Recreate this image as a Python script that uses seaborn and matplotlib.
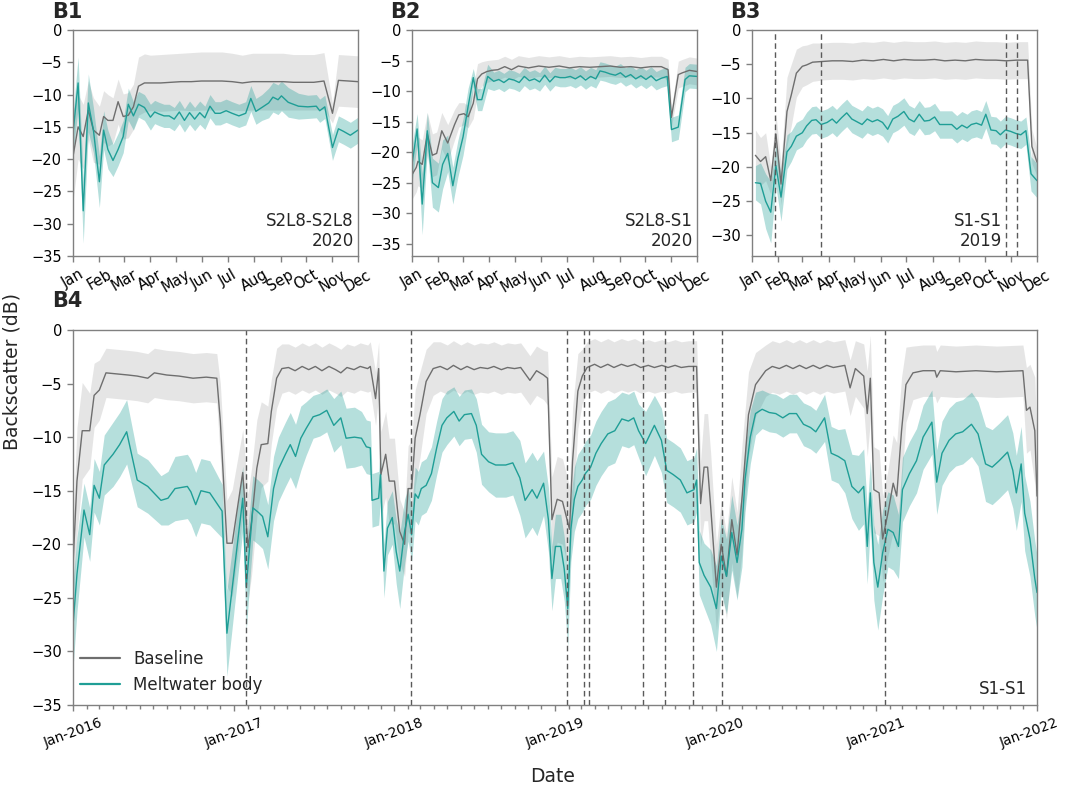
import numpy as np
import pandas as pd
import matplotlib
matplotlib.use("Agg")
import matplotlib.pyplot as plt
import matplotlib.dates as mdates
import matplotlib.transforms as mtransforms
import seaborn as sns

# ---------------- B1 (2020, S2L8-S2L8) ----------------
b1_base_dates = ["01-01","01-07","01-13","01-19","01-25","02-01","02-06","02-11","02-17","02-23","02-29",
                 "03-06","03-12","03-18","03-25","04-01","04-13","04-25","05-07","05-19","05-31","06-12",
                 "06-24","07-06","07-18","07-30","08-11","08-23","09-04","09-16","09-28","10-10","10-22",
                 "11-01","11-08","11-20","12-01"]
b1_base = [-19.6,-15.0,-16.5,-12.4,-15.5,-16.3,-13.4,-14.0,-14.0,-11.1,-13.4,
           -13.2,-11.9,-8.7,-8.2,-8.2,-8.2,-8.1,-8.0,-8.0,-7.9,-7.9,
           -7.9,-8.0,-8.2,-8.0,-8.0,-8.0,-8.0,-8.1,-8.1,-8.1,-7.9,
           -12.9,-7.8,-7.9,-8.0]
b1_base_sd = [7,5,5,4.5,5,4.5,4,4,3.5,3.5,3.5,
              3.5,3.5,4.5,4.5,4.3,4.4,4.4,4.4,4.5,4.5,4.5,
              4.5,4.4,4.3,4.4,4.4,4.4,4.4,4.3,4.3,4.3,4.4,
              1.5,4.0,4.0,4.0]
b1_melt_dates = ["01-01","01-07","01-13","01-19","01-25","02-01","02-06","02-11","02-17","02-23","02-29",
                 "03-06","03-12","03-18","03-25","04-01","04-06","04-11","04-17","04-23","04-29",
                 "05-05","05-11","05-17","05-23","05-29","06-04","06-10","06-16","06-22","06-29",
                 "07-06","07-14","07-22","07-28","08-03","08-10","08-18","08-23","08-29",
                 "09-02","09-10","09-22","10-03","10-13","10-17","10-23","11-01","11-08","11-14","11-22","12-01"]
b1_melt = [-16.0,-8.2,-28.0,-11.3,-15.5,-23.5,-15.5,-18.5,-20.2,-18.5,-16.5,
           -11.5,-13.3,-11.5,-12.0,-13.5,-12.7,-13.0,-13.3,-13.3,-13.8,
           -12.7,-14.0,-12.8,-13.8,-12.8,-13.6,-11.8,-12.9,-12.9,-12.5,
           -12.9,-13.3,-12.9,-10.6,-12.6,-12.0,-11.3,-10.4,-10.8,
           -10.2,-11.2,-11.8,-11.9,-11.8,-12.5,-11.9,-18.2,-15.3,-15.7,-16.3,-15.5]
b1_melt_sd = [3,4,5,4.5,3.5,4,3,3,2.5,2.5,2.5,
              2.5,2.2,2.0,2.0,2.0,1.8,1.8,1.8,1.8,1.8,
              1.8,1.8,1.8,1.8,1.8,1.8,1.8,1.8,1.8,1.8,
              1.8,1.8,1.8,2.0,2.0,2.0,2.3,2.3,2.3,
              2.3,2.3,2.0,1.8,1.8,1.8,1.8,2.0,2.0,2.0,2.0,2.0]

# ---------------- B2 (2020, S2L8-S1) ----------------
b2_base_dates = ["01-01","01-06","01-08","01-13","01-19","01-25","01-30","02-05","02-12","02-20","02-25",
                 "03-02","03-07","03-13","03-18","03-23","03-29","04-04","04-11","04-19","04-27",
                 "05-05","05-17","05-29","06-10","06-22","07-04","07-16","07-28","08-09","08-21",
                 "09-02","09-14","09-26","10-08","10-20","10-28","11-01","11-09","11-14","11-22","12-01"]
b2_base = [-23.7,-22.5,-21.5,-22.0,-17.0,-20.5,-20.2,-16.5,-18.5,-15.5,-13.9,
           -13.7,-14.2,-12.0,-8.0,-7.2,-6.8,-6.6,-6.5,-6.0,-6.5,
           -5.9,-6.2,-5.9,-6.1,-5.9,-6.2,-6.0,-6.1,-6.0,-5.9,
           -6.1,-6.0,-6.2,-6.0,-6.0,-6.5,-14.3,-7.3,-7.0,-6.6,-6.8]
b2_base_sd = [4,4,4,4,3.5,3.5,3.5,3,3,2.5,2,
              1.8,1.8,2.5,2.5,2,1.8,1.7,1.7,1.7,1.7,
              1.7,1.7,1.7,1.7,1.7,1.7,1.7,1.7,1.7,1.7,
              1.7,1.7,1.7,1.7,1.7,1.7,1.5,2.2,2.2,2.2,2.2]
b2_melt_dates = ["01-01","01-07","01-13","01-19","01-25","02-01","02-06","02-12","02-18","02-24",
                 "03-01","03-07","03-13","03-18","03-23","03-30","04-06","04-12","04-18","04-24","04-30",
                 "05-06","05-12","05-18","05-24","05-30","06-05","06-11","06-17","06-23","06-29",
                 "07-05","07-11","07-17","07-23","07-29","08-04","08-09","08-15","08-21","08-27",
                 "09-02","09-08","09-14","09-20","09-26","10-02","10-08","10-14","10-20","10-27",
                 "11-01","11-09","11-17","11-22","12-01"]
b2_melt = [-22.0,-16.2,-28.5,-16.5,-25.0,-25.8,-22.0,-20.2,-25.5,-21.0,
           -17.5,-12.5,-7.8,-11.4,-11.4,-7.6,-8.4,-8.1,-8.6,-8.0,-8.2,
           -8.6,-7.6,-8.3,-8.0,-8.5,-7.4,-8.5,-7.6,-7.8,-7.8,
           -7.6,-8.0,-7.5,-8.2,-7.6,-8.0,-6.7,-6.9,-7.2,-7.4,
           -7.0,-7.7,-7.3,-8.0,-7.5,-8.1,-7.5,-8.3,-7.9,-7.6,
           -16.3,-15.9,-8.1,-7.5,-7.6]
b2_melt_sd = [3,2.5,5,3,4,4,4,3,3,3,
              3,3,1.5,1.8,1.8,2,1.5,1.5,1.5,1.5,1.5,
              1.5,1.5,1.5,1.5,1.5,1.5,1.5,1.5,1.5,1.5,
              1.5,1.5,1.5,1.5,1.5,1.5,1.5,1.5,1.5,1.5,
              1.5,1.5,1.5,1.5,1.5,1.5,1.5,1.5,1.5,1.5,
              2,2,2,2,2]

# ---------------- B3 (2019, S1-S1) ----------------
b3_base_dates = ["01-05","01-11","01-17","01-23","01-29","02-04","02-11","02-16","02-22",
                 "03-01","03-06","03-13","03-24","04-05","04-17","04-29","05-11","05-23",
                 "06-04","06-16","06-28","07-10","07-22","08-03","08-15","08-27","09-08","09-20",
                 "10-02","10-14","10-26","11-07","11-20","11-25","12-01"]
b3_base = [-18.3,-19.2,-18.5,-22.0,-15.2,-22.5,-11.9,-9.5,-6.3,
           -5.3,-5.1,-4.7,-4.6,-4.5,-4.5,-4.6,-4.4,-4.5,
           -4.3,-4.5,-4.3,-4.4,-4.4,-4.3,-4.5,-4.4,-4.5,-4.3,
           -4.4,-4.4,-4.5,-4.4,-4.4,-17.0,-19.3]
b3_base_sd = [3.7,3.5,3.5,2,3,3,5,4.5,3.5,
              3.0,2.9,2.8,2.7,2.7,2.7,2.7,2.7,2.7,
              2.7,2.7,2.7,2.7,2.7,2.7,2.7,2.7,2.7,2.7,
              2.7,2.7,2.7,2.7,2.7,2.5,2]
b3_melt_dates = ["01-05","01-11","01-17","01-23","01-29","02-04","02-11","02-16","02-22",
                 "03-01","03-06","03-12","03-17","03-23","03-30","04-05","04-10","04-16","04-22","04-28",
                 "05-04","05-10","05-16","05-22","05-28","06-03","06-09","06-15","06-21","06-28",
                 "07-04","07-10","07-16","07-22","07-28","08-03","08-09","08-16","08-23","08-29",
                 "09-04","09-10","09-15","09-21","09-27","10-02","10-08","10-14","10-19","10-25","10-31",
                 "11-06","11-12","11-18","11-24","12-01"]
b3_melt = [-22.3,-22.4,-25.0,-26.6,-19.8,-24.4,-17.8,-17.0,-15.5,
           -15.0,-14.0,-13.2,-13.1,-13.8,-13.5,-13.0,-13.6,-12.8,-12.1,-13.0,
           -13.4,-13.8,-13.0,-13.4,-13.1,-13.5,-14.5,-13.0,-12.6,-11.9,
           -13.0,-13.4,-12.3,-13.3,-13.2,-12.7,-13.8,-13.8,-13.8,-14.5,
           -13.9,-14.3,-13.8,-13.6,-13.9,-12.3,-14.6,-14.7,-15.3,-14.6,-14.8,
           -15.1,-15.3,-14.7,-21.0,-22.0]
b3_melt_sd = [2.5,3,4,4.5,3,3.5,2.5,2.2,2,
              2,2,2,2,2,2,2,2,2,2,2,
              2,2,2,2,2,2,2,2,2,2,
              2,2,2,2,2,2,2,2,2,2,
              2,2,2,2,2,2,2,2,2,2,2,
              2,2,2,2.5,2.5]
b3_events = ["2019-01-28","2019-03-23","2019-10-26","2019-11-08"]

# ---------------- B4 (2016-2021, S1-S1) ----------------
b4_base_dates = [
    "2016-01-01","2016-01-10","2016-01-22","2016-02-08","2016-02-18","2016-03-01","2016-03-16","2016-04-10",
    "2016-05-05","2016-05-26","2016-06-19","2016-07-04","2016-08-01","2016-08-29","2016-09-30","2016-10-30",
    "2016-11-23","2016-12-01","2016-12-16","2016-12-28",
    "2017-01-21","2017-02-02","2017-02-10","2017-02-22","2017-03-04","2017-03-19","2017-03-27","2017-04-08",
    "2017-04-20","2017-05-05","2017-05-20","2017-06-05","2017-06-20","2017-07-05","2017-07-20","2017-08-05",
    "2017-08-20","2017-09-01","2017-09-15","2017-10-01","2017-10-15","2017-11-01","2017-11-07","2017-11-19",
    "2017-11-26","2017-12-01","2017-12-12","2017-12-20",
    "2018-01-01","2018-01-13","2018-01-24","2018-02-01","2018-02-09","2018-02-17","2018-02-28","2018-03-14",
    "2018-03-30","2018-04-15","2018-05-01","2018-05-15","2018-06-01","2018-06-15","2018-07-01","2018-07-15",
    "2018-08-01","2018-08-15","2018-09-01","2018-09-15","2018-10-01","2018-10-15","2018-11-05","2018-11-20",
    "2018-12-06","2018-12-15","2018-12-25",
    "2019-01-06","2019-01-18","2019-02-03","2019-02-10","2019-02-22","2019-03-04","2019-03-15","2019-04-01",
    "2019-04-15","2019-05-01","2019-05-15","2019-06-01","2019-06-15","2019-07-01","2019-07-15","2019-08-01",
    "2019-08-15","2019-09-01","2019-09-15","2019-10-01","2019-10-15","2019-11-01","2019-11-19","2019-11-28",
    "2019-12-06","2019-12-14","2019-12-21",
    "2020-01-03","2020-01-14","2020-01-26","2020-02-07","2020-02-19","2020-03-01","2020-03-16","2020-04-01",
    "2020-04-24","2020-05-09","2020-05-25","2020-06-10","2020-06-25","2020-07-10","2020-07-25","2020-08-10",
    "2020-08-25","2020-09-10","2020-09-25","2020-10-21","2020-11-02","2020-11-14","2020-12-03","2020-12-11",
    "2020-12-18","2020-12-26",
    "2021-01-07","2021-01-15","2021-01-27","2021-02-08","2021-02-16","2021-02-27","2021-03-09","2021-03-25",
    "2021-04-17","2021-05-14","2021-05-18","2021-05-26","2021-07-01","2021-08-15","2021-10-01","2021-11-30",
    "2021-12-08","2021-12-16","2021-12-27","2022-01-01"]
b4_base = [
    -22.0,-14.1,-9.4,-9.4,-6.1,-5.6,-4.0,-4.1,
    -4.2,-4.3,-4.5,-4.0,-4.2,-4.3,-4.5,-4.4,
    -4.5,-8.5,-19.9,-19.9,
    -13.3,-20.3,-17.9,-12.9,-10.7,-10.6,-7.6,-4.5,
    -3.6,-3.5,-3.8,-3.4,-3.7,-3.4,-3.8,-3.4,
    -3.7,-4.0,-3.5,-3.7,-3.4,-3.6,-3.4,-6.4,
    -3.6,-13.5,-11.6,-14.1,
    -14.1,-18.8,-20.0,-14.8,-14.8,-10.1,-7.9,-4.8,
    -3.6,-3.4,-3.7,-3.3,-3.7,-3.4,-3.7,-3.5,
    -3.6,-3.4,-3.7,-3.5,-3.6,-3.5,-4.7,-3.8,
    -4.2,-4.5,-17.7,
    -15.8,-16.0,-18.6,-12.2,-5.7,-4.3,-3.5,-3.2,
    -3.5,-3.2,-3.5,-3.2,-3.4,-3.2,-3.5,-3.3,
    -3.5,-3.3,-3.5,-3.3,-3.5,-3.4,-3.4,-16.2,
    -12.8,-12.8,-16.5,
    -24.0,-20.0,-23.0,-17.7,-21.0,-15.8,-7.9,-5.1,
    -3.8,-3.4,-3.6,-3.3,-3.6,-3.3,-3.6,-3.3,
    -3.6,-3.3,-3.5,-3.3,-5.4,-3.6,-4.3,-7.8,
    -4.5,-14.9,
    -15.2,-19.5,-17.1,-14.3,-15.5,-9.4,-5.1,-4.0,
    -3.8,-3.8,-4.4,-3.8,-3.9,-3.8,-3.9,-3.8,
    -7.5,-7.2,-9.4,-15.5]
b4_base_sd = [
    4,5,4.5,3.5,3,2.8,2.3,2.3,
    2.3,2.3,2.3,2.3,2.3,2.3,2.3,2.3,
    2.3,3.5,4,5,
    4,5,5,4.5,4,3.5,3,2.8,
    2.3,2.2,2.2,2.2,2.2,2.2,2.2,2.2,
    2.2,2.2,2.2,2.2,2.2,2.2,2.3,2.5,
    2.5,4,4,4,
    4,3,3,4,4.5,4.5,4,3,
    2.5,2.3,2.3,2.3,2.3,2.3,2.3,2.3,
    2.3,2.3,2.3,2.3,2.3,2.3,2.3,2.3,
    2.3,2.5,4,
    4,4,4,5,3.5,2.5,2.4,2.4,
    2.4,2.4,2.4,2.4,2.4,2.4,2.4,2.4,
    2.4,2.4,2.4,2.4,2.4,2.4,2.4,4,
    5,5,5,
    4,4,4,4,4,5,4,3,
    2.4,2.4,2.4,2.4,2.4,2.4,2.4,2.4,
    2.4,2.4,2.4,2.4,2.6,2.6,3,4,
    4,4,
    4,4,4,4.5,5,5,3.5,2.5,
    2.4,2.4,2.4,2.4,2.4,2.4,2.4,2.4,
    4,4,5,5]
b4_melt_dates = [
    "2016-01-01","2016-01-10","2016-01-26","2016-02-08","2016-02-18","2016-03-01","2016-03-12","2016-04-01",
    "2016-04-16","2016-05-02","2016-05-26","2016-06-19","2016-07-19","2016-08-04","2016-08-20","2016-09-17",
    "2016-09-25","2016-10-06","2016-10-18","2016-11-07","2016-12-05","2016-12-16",
    "2017-01-21","2017-01-29","2017-02-13","2017-02-25","2017-03-07","2017-03-19","2017-04-01","2017-04-12",
    "2017-04-28","2017-05-09","2017-05-21","2017-06-02","2017-06-14","2017-06-30","2017-07-15","2017-07-31",
    "2017-08-16","2017-09-01","2017-09-13","2017-10-02","2017-10-18","2017-10-29","2017-11-07","2017-11-11",
    "2017-11-26","2017-11-30","2017-12-08","2017-12-16","2017-12-27",
    "2018-01-05","2018-01-13","2018-01-24","2018-02-01","2018-02-09","2018-02-17","2018-02-24","2018-03-03",
    "2018-03-14","2018-03-26","2018-04-07","2018-04-19","2018-04-30","2018-05-16","2018-05-28","2018-06-09",
    "2018-06-25","2018-07-06","2018-07-18","2018-08-03","2018-08-19","2018-09-11","2018-09-27","2018-10-13",
    "2018-10-25","2018-11-10","2018-11-21","2018-12-06","2018-12-17","2018-12-25",
    "2019-01-02","2019-01-14","2019-01-22","2019-01-30","2019-02-06","2019-02-14","2019-02-22","2019-03-04",
    "2019-03-11","2019-03-23","2019-04-04","2019-04-16","2019-05-01","2019-05-17","2019-06-02","2019-06-17",
    "2019-06-29","2019-07-10","2019-07-26","2019-08-15","2019-08-31","2019-09-12","2019-09-27","2019-10-13",
    "2019-10-28","2019-11-13","2019-11-19","2019-11-25","2019-12-06","2019-12-21",
    "2020-01-03","2020-01-14","2020-01-26","2020-02-07","2020-02-19","2020-03-01","2020-03-08","2020-03-20",
    "2020-04-01","2020-04-16","2020-05-02","2020-05-17","2020-06-02","2020-06-17","2020-07-03","2020-07-19",
    "2020-08-04","2020-08-16","2020-09-05","2020-09-20","2020-10-06","2020-10-21","2020-11-06","2020-11-21",
    "2020-12-03","2020-12-11","2020-12-18","2020-12-26",
    "2021-01-04","2021-01-15","2021-01-27","2021-02-08","2021-02-20","2021-03-01","2021-03-17","2021-04-02",
    "2021-04-17","2021-05-07","2021-05-18","2021-05-30","2021-06-15","2021-06-30","2021-07-16","2021-08-05",
    "2021-08-20","2021-09-06","2021-09-21","2021-10-07","2021-10-26","2021-11-07","2021-11-15","2021-11-26",
    "2021-12-04","2021-12-16","2021-12-27","2022-01-01"]
b4_melt = [
    -27.6,-22.8,-16.8,-19.1,-14.5,-15.7,-12.6,-11.6,
    -10.7,-9.5,-14.0,-14.6,-15.9,-15.7,-14.8,-14.6,
    -15.1,-16.3,-15.0,-15.2,-16.9,-28.3,
    -15.7,-24.0,-16.6,-17.0,-17.4,-19.3,-14.8,-13.0,
    -11.6,-10.7,-11.8,-10.1,-9.2,-8.1,-7.9,-7.5,
    -8.9,-8.2,-10.1,-10.0,-10.1,-10.9,-11.0,-15.9,
    -15.7,-13.5,-22.5,-18.5,-17.5,
    -20.7,-22.5,-18.8,-17.2,-19.1,-15.3,-15.7,-14.8,
    -14.5,-13.4,-11.0,-8.9,-8.2,-7.6,-8.5,-7.9,
    -7.8,-8.9,-11.6,-12.3,-12.6,-12.6,-12.4,-13.8,
    -15.9,-14.9,-15.7,-14.3,-17.7,-23.2,
    -20.2,-20.2,-22.3,-26.0,-18.6,-15.8,-14.6,-14.0,
    -13.4,-12.8,-11.5,-10.6,-9.7,-9.4,-8.3,-8.5,
    -8.2,-9.4,-10.6,-8.9,-10.3,-13.1,-13.5,-14.0,
    -15.2,-14.9,-14.0,-21.7,-22.9,-24.0,
    -26.0,-21.1,-23.0,-18.9,-21.7,-18.6,-14.0,-10.0,
    -7.8,-7.4,-7.7,-7.8,-8.2,-7.8,-7.8,-8.8,
    -9.1,-9.5,-8.2,-11.5,-11.8,-12.2,-14.6,-15.2,
    -14.6,-20.2,-15.2,-21.7,
    -24.0,-20.8,-18.6,-18.9,-20.2,-14.9,-13.4,-12.2,
    -10.0,-8.6,-14.2,-11.5,-10.3,-9.7,-9.5,-8.8,
    -9.7,-12.5,-12.8,-12.2,-11.4,-13.1,-15.2,-12.5,
    -17.1,-19.5,-23.2,-24.5]
b4_melt_sd = [
    4,3.5,2.5,2.5,2.5,2.5,2.8,3,
    3,3,2.5,2.5,2.3,2.5,3,3,
    3,3,3,3,2.5,4,
    3,4,3,3,3,3,3,3,
    3,3,3,3,2.5,2,2,2,
    2.5,2.5,2.8,2.8,2.5,2.5,2.5,2.5,
    2.5,2.5,2.5,2.5,2.5,
    3,3.5,3,2.5,2.5,2.5,2.5,2.5,
    2.5,2.5,2.5,2.5,2.5,2.3,2.3,2.3,
    2.3,2.5,2.8,2.8,3,3,3,3.5,
    3.5,3.5,3.5,3,3,3,
    3,3,3,3.5,3,3,3,3,
    3,3,3,3,3,3,2.5,2.5,
    2.5,2.5,3,2.8,3,3,3,3,
    3,3,3,3,3,3.5,
    4,3.5,3.5,3.5,3.5,3.5,3,2.5,
    2,1.8,1.8,1.8,1.8,1.8,1.8,2,
    2,2,2.2,2.5,2.5,3,3,3.5,
    3.5,3.5,3,3.5,
    4,4,3.5,3.5,3,3,3,3,
    3,3,3,3,3,3,3,3,
    3,3.5,3.5,3.5,3.5,3.5,3.5,3.5,
    3.5,3.5,3.5,3.5]
b4_events = ["2017-01-28","2018-02-08","2019-01-28","2019-03-07","2019-03-20","2019-07-19",
             "2019-09-08","2019-11-10","2020-01-15","2021-01-21"]

series_labels = ["Baseline", "Meltwater body"]

# ---------------- style ----------------
sns.set_theme(style="ticks")
plt.rcParams['font.family'] = ['DejaVu Sans']
SPINE = "#808080"
BASE_LINE = "#6e6e6e"
BASE_FILL = "#9a9a9a"
MELT_LINE = "#1f9e96"
MELT_FILL = "#1f9e96"

fig = plt.figure(figsize=(10.65, 7.92), dpi=100)
W, H = 1065.0, 792.0

def add_ax(l, t, r, b):
    return fig.add_axes([l / W, 1 - b / H, (r - l) / W, (b - t) / H])

ax1 = add_ax(73, 30, 358, 256)
ax2 = add_ax(412, 30, 697, 256)
ax3 = add_ax(752, 30, 1037, 256)
ax4 = add_ax(73, 330, 1037, 705)


def draw(ax, bd, bv, bs, md, mv, ms, with_label=False):
    bd = pd.to_datetime(bd); md = pd.to_datetime(md)
    bv = np.asarray(bv); bs = np.asarray(bs)
    mv = np.asarray(mv); ms = np.asarray(ms)
    ax.fill_between(bd, bv - bs, bv + bs, color=BASE_FILL, alpha=0.25, lw=0)
    ax.fill_between(md, mv - ms, mv + ms, color=MELT_FILL, alpha=0.33, lw=0)
    sns.lineplot(x=bd, y=bv, ax=ax, color=BASE_LINE, lw=1.0,
                 label=series_labels[0] if with_label else None, legend=False)
    sns.lineplot(x=md, y=mv, ax=ax, color=MELT_LINE, lw=1.0,
                 label=series_labels[1] if with_label else None, legend=False)


def style(ax):
    for s in ax.spines.values():
        s.set_color(SPINE)
        s.set_linewidth(1.0)
    ax.tick_params(axis='both', which='both', colors=SPINE, labelcolor='black',
                   labelsize=10.5, direction='out')
    ax.tick_params(which='major', length=4.5, width=1.0)
    ax.tick_params(which='minor', length=3, width=1.0)
    ax.set_xlabel("")
    ax.set_ylabel("")


def year_dates(year, mmdd):
    return [f"{year}-{d}" for d in mmdd]

# B1
draw(ax1, year_dates(2020, b1_base_dates), b1_base, b1_base_sd,
     year_dates(2020, b1_melt_dates), b1_melt, b1_melt_sd)
# B2
draw(ax2, year_dates(2020, b2_base_dates), b2_base, b2_base_sd,
     year_dates(2020, b2_melt_dates), b2_melt, b2_melt_sd)
# B3
draw(ax3, year_dates(2019, b3_base_dates), b3_base, b3_base_sd,
     year_dates(2019, b3_melt_dates), b3_melt, b3_melt_sd)
# B4
draw(ax4, b4_base_dates, b4_base, b4_base_sd, b4_melt_dates, b4_melt, b4_melt_sd, with_label=True)

dash = dict(color="#5a5a5a", lw=1.0, ls=(0, (4, 2.5)))
for d in b3_events:
    ax3.axvline(pd.Timestamp(d), **dash)
for d in b4_events:
    ax4.axvline(pd.Timestamp(d), **dash)

for ax, yr, ylo in [(ax1, 2020, -35), (ax2, 2020, -37), (ax3, 2019, -33)]:
    ax.set_xlim(pd.Timestamp(f"{yr}-01-01"), pd.Timestamp(f"{yr}-12-01"))
    ax.set_ylim(ylo, 0)
    ax.set_yticks(np.arange(0, ylo - 0.1, -5))
    ax.xaxis.set_major_locator(mdates.MonthLocator())
    ax.xaxis.set_major_formatter(mdates.DateFormatter("%b"))
    style(ax)
    for lab in ax.get_xticklabels():
        lab.set_rotation(30)
        lab.set_ha("center")

ax4.set_xlim(pd.Timestamp("2016-01-01"), pd.Timestamp("2022-01-01"))
ax4.set_ylim(-35, 0)
ax4.set_yticks(np.arange(0, -35.1, -5))
ax4.xaxis.set_major_locator(mdates.YearLocator())
ax4.xaxis.set_major_formatter(mdates.DateFormatter("%b-%Y"))
ax4.xaxis.set_minor_locator(mdates.MonthLocator())
style(ax4)
fig.canvas.draw()
b4_labels = ax4.get_xticklabels()
shift_left = mtransforms.ScaledTranslation(-8 / 100.0, 0, fig.dpi_scale_trans)
for i, lab in enumerate(b4_labels):
    lab.set_rotation(20)
    lab.set_ha("center")
    lab.set_fontsize(10)
    if i == len(b4_labels) - 1:
        lab.set_transform(lab.get_transform() + shift_left)

txt = dict(ha="right", va="bottom", fontsize=12, multialignment="right")
ax1.text(0.985, 0.025, "S2L8-S2L8\n2020", transform=ax1.transAxes, **txt)
ax2.text(0.985, 0.025, "S2L8-S1\n2020", transform=ax2.transAxes, **txt)
ax3.text(0.877, 0.025, "S1-S1\n2019", transform=ax3.transAxes, **txt)
ax4.text(0.99, 0.02, "S1-S1", transform=ax4.transAxes, **txt)

leg = ax4.legend(loc="lower left", bbox_to_anchor=(0.0, 0.012), frameon=False, fontsize=12,
                 handlelength=2.4, borderaxespad=0.0, labelspacing=0.45)
for ln in leg.get_lines():
    ln.set_linewidth(1.6)

pan = dict(fontsize=15, fontweight="bold", va="baseline", ha="left")
fig.text(52 / W, 1 - 18 / H, "B1", **pan)
fig.text(390 / W, 1 - 18 / H, "B2", **pan)
fig.text(730 / W, 1 - 18 / H, "B3", **pan)
fig.text(52 / W, 1 - 307 / H, "B4", **pan)

fig.text(12 / W, 1 - 372 / H, "Backscatter (dB)", rotation=90, fontsize=13.5,
         ha="center", va="center")
fig.text(553 / W, 1 - 776 / H, "Date", fontsize=13.5, ha="center", va="center")

fig.savefig("out.png", dpi=100)
